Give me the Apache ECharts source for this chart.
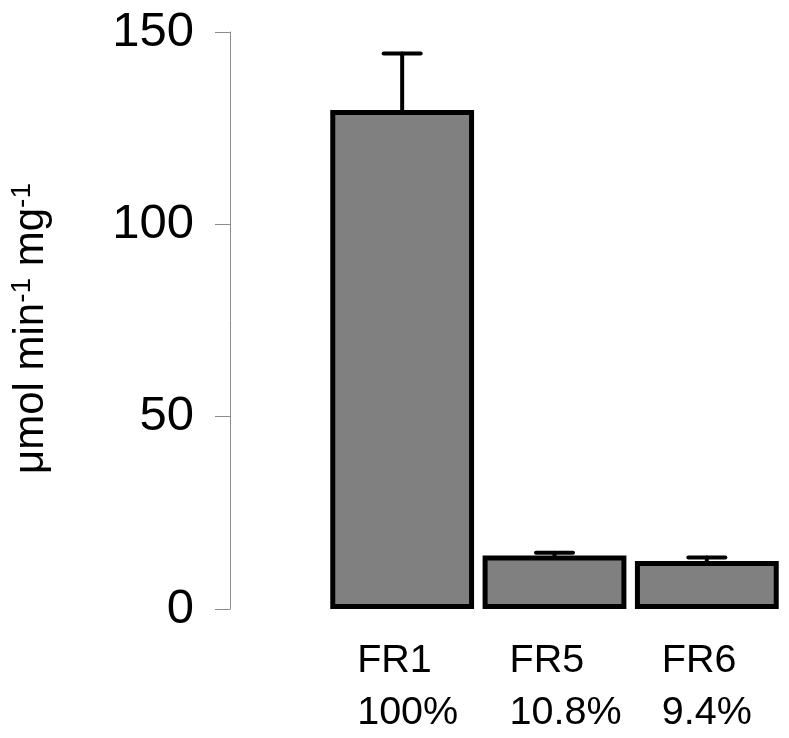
<!DOCTYPE html>
<html>
<head>
<meta charset="utf-8">
<script src="https://cdn.jsdelivr.net/npm/echarts@6/dist/echarts.min.js"></script>
<style>
    html, body { margin: 0; padding: 0; background: #fff; }
    #chart { width: 789px; height: 738px; }
</style>
</head>
<body>
<div id="chart"></div>
<script>
// 数据
var fractions = ['FR1', 'FR5', 'FR6']
var percents = ['100%', '10.8%', '9.4%']
var activity = [129.7, 13.9, 12.5]
var errors = [14.7, 0.7, 0.9]
var yTicks = [0, 50, 100, 150]

var chart = echarts.init(document.getElementById('chart'))
var FONT = '"Liberation Sans", Arial, sans-serif'

// 误差线数据 [index, value, top]
var errData = activity.map(function (v, i) {
    return [i, v, v + errors[i]]
})

var option = {
    animation: false,
    grid: {
        left: 325,
        right: 6,
        top: 32,
        bottom: 129
    },
    xAxis: {
        type: 'category',
        data: fractions,
        axisLine: { show: false },
        axisTick: { show: false },
        axisLabel: {
            margin: 26,
            interval: 0,
            formatter: function (val, i) {
                return '{a|' + val + '}\n{a|' + percents[i] + '}'
            },
            rich: {
                a: {
                    width: 90,
                    align: 'left',
                    fontSize: 39.5,
                    lineHeight: 52,
                    color: '#000',
                    fontFamily: FONT
                }
            }
        }
    },
    yAxis: {
        type: 'value',
        min: yTicks[0],
        max: yTicks[yTicks.length - 1],
        interval: 50,
        offset: 96,
        name: '{t|μmol min}{s|-1}{t| mg}{s|-1}',
        nameLocation: 'middle',
        nameRotate: 90,
        nameGap: 176,
        nameTextStyle: {
            padding: [0, 16, 0, 0],
            rich: {
                t: { fontSize: 42, fontFamily: FONT, color: '#000' },
                s: { fontSize: 28, fontFamily: FONT, color: '#000', padding: [0, 0, 18, 0] }
            }
        },
        axisLine: { show: true, lineStyle: { color: '#8c8c8c', width: 1 } },
        axisTick: { show: true, inside: false, length: 15, lineStyle: { color: '#8c8c8c', width: 1 } },
        splitLine: { show: false },
        axisLabel: {
            margin: 36,
            fontSize: 49,
            color: '#000',
            fontFamily: FONT
        }
    },
    series: [
        {
            name: 'activity',
            type: 'bar',
            data: activity,
            barCategoryGap: '5.6%',
            itemStyle: {
                color: '#808080',
                borderColor: '#000',
                borderWidth: 5
            },
            z: 2
        },
        {
            name: 'error',
            type: 'custom',
            data: errData,
            z: 3,
            renderItem: function (params, api) {
                var idx = api.value(0)
                var low = api.coord([idx, api.value(1)])
                var high = api.coord([idx, api.value(2)])
                var half = 18.5
                var style = { stroke: '#000', lineWidth: 4, lineCap: 'round' }
                return {
                    type: 'group',
                    children: [
                        { type: 'line', shape: { x1: low[0], y1: low[1], x2: high[0], y2: high[1] }, style: style },
                        { type: 'line', shape: { x1: high[0] - half, y1: high[1], x2: high[0] + half, y2: high[1] }, style: style }
                    ]
                }
            }
        }
    ]
}
chart.setOption(option)
</script>
</body>
</html>
